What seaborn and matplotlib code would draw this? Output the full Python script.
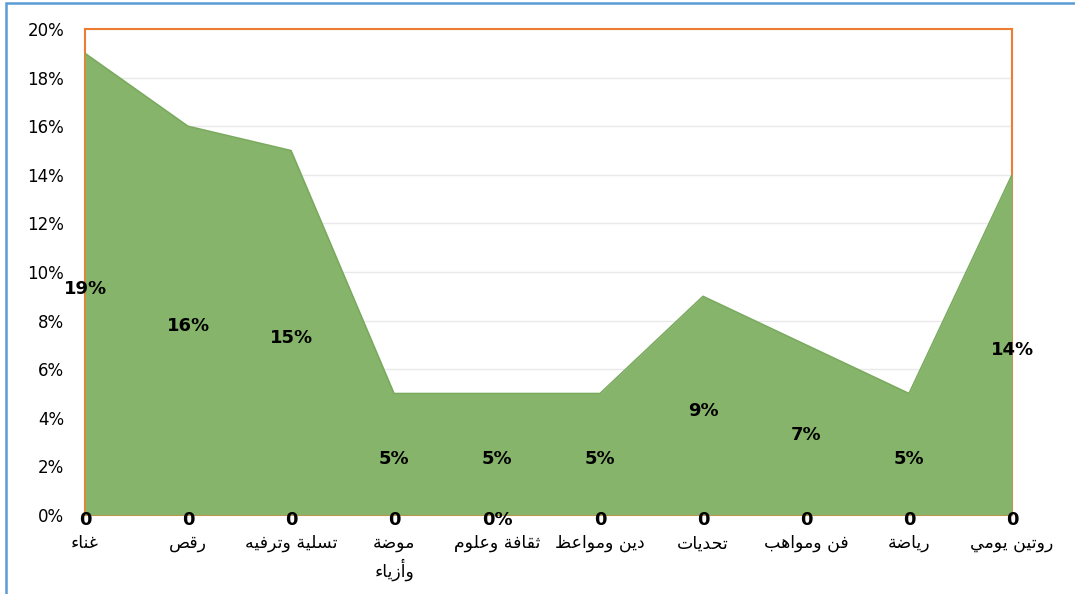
import numpy as np
import pandas as pd
import matplotlib
matplotlib.use("Agg")
import matplotlib.pyplot as plt
from matplotlib.patches import Rectangle
import seaborn as sns

categories = ["غناء", "رقص", "تسلية وترفيه", "موضة\nوأزياء", "ثقافة وعلوم",
              "دين ومواعظ", "تحديات", "فن ومواهب", "رياضة", "روتين يومي"]
shares = [19, 16, 15, 5, 5, 5, 9, 7, 5, 14]
second_vals = [0, 0, 0, 0, 0, 0, 0, 0, 0, 0]
second_labels = ["0", "0", "0", "0", "0%", "0", "0", "0", "0", "0"]
y_ticks = [0, 2, 4, 6, 8, 10, 12, 14, 16, 18, 20]

# matplotlib does no arabic shaping, so join letters by hand and reverse
ISO = {"ء": 0xFE80, "أ": 0xFE83, "ا": 0xFE8D, "ب": 0xFE8F, "ة": 0xFE93,
       "ت": 0xFE95, "ث": 0xFE99, "ح": 0xFEA1, "د": 0xFEA9, "ر": 0xFEAD,
       "ز": 0xFEAF, "س": 0xFEB1, "ص": 0xFEB9, "ض": 0xFEBD, "ظ": 0xFEC5,
       "ع": 0xFEC9, "غ": 0xFECD, "ف": 0xFED1, "ق": 0xFED5, "ل": 0xFEDD,
       "م": 0xFEE1, "ن": 0xFEE5, "ه": 0xFEE9, "و": 0xFEED, "ي": 0xFEF1}
NON_DUAL = set("ءأادرزوة")


def shape_line(s):
    out = []
    for i, ch in enumerate(s):
        if ch not in ISO:
            out.append(ch)
            continue
        prev = s[i - 1] if i > 0 else ""
        nxt = s[i + 1] if i + 1 < len(s) else ""
        join_prev = prev in ISO and prev not in NON_DUAL
        if ch == "ء":
            off = 0
        elif ch in NON_DUAL:
            off = 1 if join_prev else 0
        else:
            join_next = nxt in ISO and nxt != "ء"
            off = {(False, False): 0, (True, False): 1,
                   (False, True): 2, (True, True): 3}[(join_prev, join_next)]
        out.append(chr(ISO[ch] + off))
    return "".join(out)[::-1]


def shape(s):
    return "\n".join(shape_line(line) for line in s.split("\n"))


sns.set_theme(style="white")
plt.rcParams["font.family"] = ["DejaVu Sans"]

GREEN = "#85B46A"
ORANGE = "#ED7D31"

x = np.arange(len(categories))
df = pd.DataFrame({"x": x, "share": shares})

fig, ax = plt.subplots(figsize=(10.75, 5.94), dpi=100)
fig.subplots_adjust(left=0.0791, right=0.9414, bottom=0.133, top=0.951)

ax.fill_between(df["x"], df["share"], color=GREEN, lw=0, zorder=3)
sns.lineplot(data=df, x="x", y="share", ax=ax, color="#7AAA5E", lw=1.2, zorder=3)

for xi, v in zip(x, shares):
    ax.text(xi, v / 2 - 0.2, f"{v}%", ha="center", va="center",
            fontsize=13, fontweight="bold", color="black", zorder=5)
for xi, v, lab in zip(x, second_vals, second_labels):
    ax.text(xi, v - 0.21, lab, ha="center", va="center",
            fontsize=13, fontweight="bold", color="black", zorder=5,
            clip_on=False)

ax.set_xlim(0, len(categories) - 1)
ax.set_ylim(0, 20)
ax.set_yticks(y_ticks)
ax.set_yticklabels([f"{t}%" for t in y_ticks], fontsize=12, color="black")
ax.set_xticks(x)
ax.set_xticklabels([shape(c) for c in categories], fontsize=12.5, color="black",
                   linespacing=1.35, va="top")
ax.tick_params(axis="x", length=0, pad=14)
ax.tick_params(axis="y", length=0, pad=15)
ax.set_xlabel("")
ax.set_ylabel("")

ax.yaxis.grid(True, color="#E9E9E9", lw=1)
ax.xaxis.grid(False)
ax.set_axisbelow(True)
for s in ax.spines.values():
    s.set_color(ORANGE)
    s.set_linewidth(1.5)
    s.set_zorder(2.5)

fig.patches.append(Rectangle((0.0056, -0.1), 1.2, 1.095, transform=fig.transFigure,
                             fill=False, edgecolor="#5B9BD5", lw=1.8))

plt.savefig("out.png", dpi=100)
plt.close()
